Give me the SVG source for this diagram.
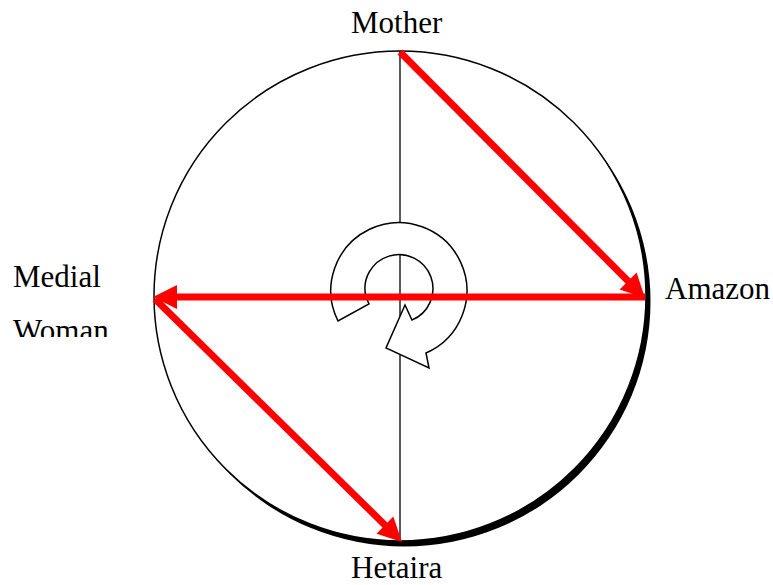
<svg xmlns="http://www.w3.org/2000/svg" width="773" height="585" viewBox="0 0 773 585">
<style>
.lbl{font-family:"Liberation Serif","Times New Roman",serif;font-size:31px;fill:#000}
.red{stroke:#ff0000;stroke-width:7;fill:none}
.head{fill:#ff0000}
</style>
<defs>
<clipPath id="clipWoman"><rect x="0" y="300" width="200" height="37"/></clipPath>
</defs>
<rect width="773" height="585" fill="#fff"/>
<g id="circle">
<ellipse cx="404.5" cy="301.5" rx="246" ry="245" fill="#000"/>
<ellipse cx="400" cy="296" rx="246" ry="245" fill="#fff" stroke="#000" stroke-width="1.5"/>
<line x1="400" y1="51" x2="400" y2="541" stroke="#000" stroke-width="1.3"/>
</g>
<g id="spiral">
<path d="M366,297 L369,304 L338,321 A68,68 0 1 1 426,353 L429,368 L386,348 L405,305 L412,320 A34,34 0 1 0 366,297 Z" fill="#fff" stroke="#000" stroke-width="1.5" stroke-linejoin="miter"/>
</g>
<g id="connectors">
<line class="red" x1="400" y1="52" x2="635" y2="288"/>
<polygon class="head" points="645,298 619.6,289.5 636.6,272.5"/>
<line class="red" x1="645" y1="297" x2="167" y2="297"/>
<polygon class="head" points="153,297 177,285 177,309"/>
<line class="red" x1="155" y1="299" x2="392" y2="532"/>
<polygon class="head" points="402,542 376.5,533.8 393.3,516.6"/>
</g>
<g id="mother"><text class="lbl" x="351" y="33">Mother</text></g>
<g id="amazon"><text class="lbl" x="665" y="299">Amazon</text></g>
<g id="hetaira"><text class="lbl" x="351" y="578">Hetaira</text></g>
<g id="medial-woman"><text class="lbl" x="13" y="287">Medial</text><text class="lbl" x="13" y="341" clip-path="url(#clipWoman)">Woman</text></g>
</svg>
